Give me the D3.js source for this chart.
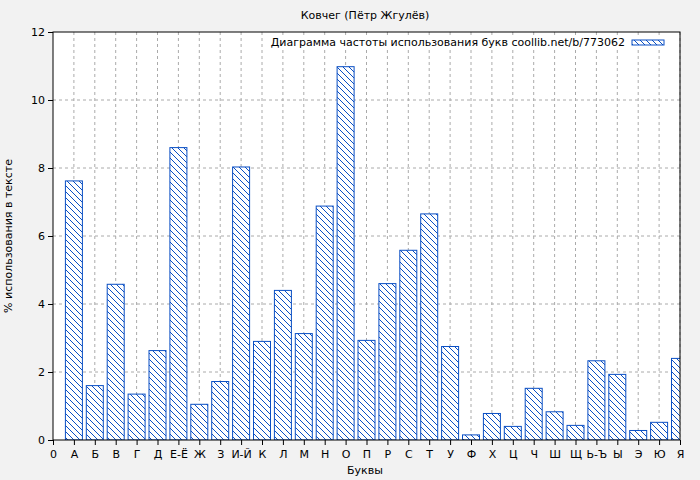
<!DOCTYPE html>
<html><head><meta charset="utf-8">
<script src="https://cdn.jsdelivr.net/npm/d3@7"></script>
<style>body{margin:0;background:#f2f2f2;font-family:"DejaVu Sans",sans-serif}</style>
</head><body><svg id="c" width="700" height="480"></svg>
<script>
const letters = ["А","Б","В","Г","Д","Е-Ё","Ж","З","И-Й","К","Л","М","Н","О","П","Р","С","Т","У","Ф","Х","Ц","Ч","Ш","Щ","Ь-Ъ","Ы","Э","Ю","Я"];
const values = [7.62,1.6,4.58,1.35,2.63,8.6,1.05,1.72,8.03,2.9,4.4,3.13,6.88,10.98,2.93,4.6,5.58,6.65,2.75,0.15,0.78,0.4,1.52,0.83,0.43,2.33,1.93,0.28,0.52,2.4];
const yTicks = [0,2,4,6,8,10,12];

const svg = d3.select("#c");
const pLeft = 53, pRight = 680, pTop = 32, pBottom = 440;
const x = d3.scaleLinear().domain([0, 30]).range([pLeft, pRight]);
const y = d3.scaleLinear().domain([0, 12]).range([pBottom, pTop]);
const blue = "#0a4fc4";

const defs = svg.append("defs");
const pat = defs.append("pattern").attr("id", "hatch").attr("patternUnits", "userSpaceOnUse")
    .attr("width", 6).attr("height", 6);
pat.append("rect").attr("width", 6).attr("height", 6).attr("fill", "#fff");
pat.append("path").attr("d", "M0,0L6,6M-3,3L3,9M3,-3L9,3").attr("stroke", blue).attr("stroke-width", 1);
defs.append("clipPath").attr("id", "clip").append("rect")
    .attr("x", pLeft).attr("y", pTop).attr("width", pRight - pLeft).attr("height", pBottom - pTop);

svg.append("rect").attr("x", pLeft).attr("y", pTop).attr("width", pRight - pLeft).attr("height", pBottom - pTop).attr("fill", "#fff");

// grid
const g = svg.append("g").attr("stroke", "#aaa").attr("stroke-dasharray", "3,3");
d3.range(1, 31).forEach(i => g.append("line").attr("x1", x(i)).attr("x2", x(i)).attr("y1", pTop).attr("y2", pBottom));
yTicks.slice(1, -1).forEach(v => g.append("line").attr("x1", pLeft).attr("x2", pRight).attr("y1", y(v)).attr("y2", y(v)));

const bw = 17;
svg.append("g").attr("clip-path", "url(#clip)").selectAll("rect").data(values).enter().append("rect")
    .attr("x", (d, i) => x(i + 1) - bw / 2).attr("width", bw)
    .attr("y", d => y(d)).attr("height", d => pBottom - y(d))
    .attr("fill", "url(#hatch)").attr("stroke", blue).attr("stroke-width", 1);

svg.append("rect").attr("x", pLeft).attr("y", pTop).attr("width", pRight - pLeft).attr("height", pBottom - pTop)
    .attr("fill", "none").attr("stroke", "#000");

const xa = svg.append("g").attr("transform", `translate(0,${pBottom})`)
    .call(d3.axisBottom(x).tickValues(d3.range(0, 31)).tickSize(5).tickFormat(i => i === 0 ? "0" : letters[i - 1]));
const ya = svg.append("g").attr("transform", `translate(${pLeft},0)`)
    .call(d3.axisLeft(y).tickValues(yTicks).tickSize(5));
[xa, ya].forEach(a => {
    a.select(".domain").remove();
    a.selectAll("text").attr("font-size", 11).attr("font-family", "DejaVu Sans").attr("fill", "#000");
});
xa.selectAll("text").attr("dy", "0.9em");

svg.append("text").attr("x", 365).attr("y", 19).attr("text-anchor", "middle").attr("font-size", 11).text("Ковчег (Пётр Жгулёв)");
svg.append("text").attr("x", 365).attr("y", 474).attr("text-anchor", "middle").attr("font-size", 11).text("Буквы");
svg.append("text").attr("transform", "translate(12,236) rotate(-90)").attr("text-anchor", "middle").attr("font-size", 11).text("% использования в тексте");

svg.append("rect").attr("x", 282).attr("y", 35).attr("width", 390).attr("height", 14).attr("fill", "#fff");
svg.append("text").attr("x", 625).attr("y", 46).attr("text-anchor", "end").attr("font-size", 11).text("Диаграмма частоты использования букв coollib.net/b/773062");
svg.append("rect").attr("x", 632).attr("y", 40).attr("width", 32).attr("height", 5).attr("fill", "url(#hatch)").attr("stroke", blue);
</script></body></html>
